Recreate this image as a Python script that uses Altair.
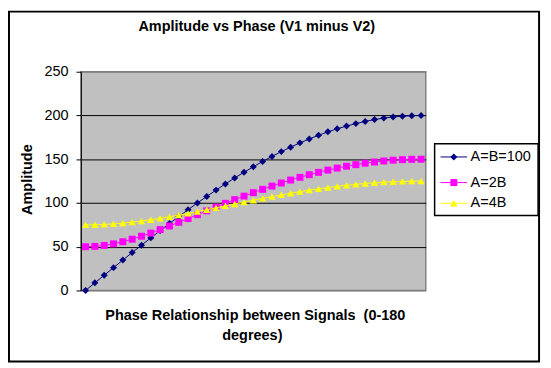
import altair as alt
import pandas as pd

# ---- data ----
phase = list(range(0, 181, 5))
series_names = ["A=B=100", "A=2B", "A=4B"]
amp_equal = [0.0, 8.7, 17.4, 26.1, 34.7, 43.3, 51.8, 60.1, 68.4, 76.5,
             84.5, 92.3, 100.0, 107.5, 114.7, 121.8, 128.6, 135.1, 141.4, 147.5,
             153.2, 158.7, 163.8, 168.7, 173.2, 177.4, 181.3, 184.8, 187.9, 190.7,
             193.2, 195.3, 197.0, 198.3, 199.2, 199.8, 200.0]
amp_2b = [50.0, 50.4, 51.5, 53.3, 55.7, 58.6, 62.0, 65.6, 69.6, 73.7,
          77.9, 82.2, 86.6, 91.0, 95.3, 99.6, 103.8, 107.8, 111.8, 115.6,
          119.3, 122.8, 126.2, 129.3, 132.3, 135.0, 137.6, 139.9, 142.0, 143.8,
          145.5, 146.8, 148.0, 148.9, 149.5, 149.9, 150.0]
amp_4b = [75.0, 75.1, 75.5, 76.1, 77.0, 78.1, 79.3, 80.8, 82.4, 84.2,
          86.1, 88.1, 90.1, 92.3, 94.4, 96.6, 98.8, 100.9, 103.1, 105.2,
          107.2, 109.2, 111.1, 112.9, 114.6, 116.2, 117.6, 119.0, 120.2, 121.3,
          122.3, 123.1, 123.8, 124.3, 124.7, 124.9, 125.0]
y_ticks = [0, 50, 100, 150, 200, 250]
chart_title = "Amplitude vs Phase (V1 minus V2)"
x_title_lines = ["Phase Relationship between Signals \u00a0(0-180", "degrees)"]
y_title = "Amplitude"

# ---- styles ----
colors = ["#000080", "#FF00FF", "#FFFF00"]
shapes = ["diamond", "square", "triangle-up"]
sizes = [50, 50, 55]
values = [amp_equal, amp_2b, amp_4b]
FONT = "Liberation Sans, Arial, sans-serif"
FS = 14.67
W, H = 350, 222

x_scale = alt.Scale(domain=[-2.5, 182.5], nice=False, zero=False)
y_scale = alt.Scale(domain=[0, 250], nice=False)

y_axis = alt.Axis(
    values=y_ticks, title=y_title, grid=True,
    gridColor={"condition": {"test": "datum.value == 0 || datum.value == 250", "value": "#808080"}, "value": "#000000"},
    gridWidth=1, domainColor="#000000", domainWidth=1,
    tickColor="#000000", tickSize=5, tickWidth=1,
    labelFont=FONT, labelFontSize=FS, labelColor="#000000", labelPadding=8,
    titleFont=FONT, titleFontSize=FS, titleFontWeight="bold", titleColor="#000000",
    titleX=-54, titleY=109, titleAngle=270, titleAlign="center", titleBaseline="middle",
)

layers = []
one = pd.DataFrame({"k": [0]})

# chart border
layers.append(
    alt.Chart(one).mark_rect(fillOpacity=0, stroke="#000000", strokeWidth=2).encode(
        x=alt.value(-73), x2=alt.value(465), y=alt.value(-61), y2=alt.value(294)
    )
)

for name, col, shp, sz, vals in zip(series_names, colors, shapes, sizes, values):
    df = pd.DataFrame({"phase": phase, "amp": vals, "series": name})
    base = alt.Chart(df).encode(
        x=alt.X("phase:Q", scale=x_scale, axis=None),
        y=alt.Y("amp:Q", scale=y_scale, axis=y_axis),
    )
    layers.append(base.mark_line(color=col, strokeWidth=1))
    layers.append(base.mark_point(shape=shp, filled=True, color=col, size=sz, opacity=1, strokeWidth=0))

# title
layers.append(
    alt.Chart(pd.DataFrame({"t": [chart_title]})).mark_text(
        font=FONT, fontSize=FS, fontWeight="bold", color="#000000", align="center", baseline="middle"
    ).encode(text="t:N", x=alt.value(178.5), y=alt.value(-45))
)
# x title (two lines)
for line, xc, yc in zip(x_title_lines, [177, 174], [248, 268]):
    layers.append(
        alt.Chart(pd.DataFrame({"t": [line]})).mark_text(
            font=FONT, fontSize=FS, fontWeight="bold", color="#000000", align="center", baseline="middle"
        ).encode(text="t:N", x=alt.value(xc), y=alt.value(yc))
    )

# legend box
layers.append(
    alt.Chart(one).mark_rect(fill="#FFFFFF", stroke="#000000", strokeWidth=1.5).encode(
        x=alt.value(359), x2=alt.value(464), y=alt.value(73), y2=alt.value(146)
    )
)
legend_y = [86.5, 112.5, 133.5]
for name, col, shp, sz, ly in zip(series_names, colors, shapes, sizes, legend_y):
    layers.append(
        alt.Chart(one).mark_rule(color=col, strokeWidth=1).encode(
            x=alt.value(365), x2=alt.value(392), y=alt.value(ly)
        )
    )
    layers.append(
        alt.Chart(one).mark_point(shape=shp, filled=True, color=col, size=sz, opacity=1, strokeWidth=0).encode(
            x=alt.value(378.5), y=alt.value(ly)
        )
    )
    layers.append(
        alt.Chart(pd.DataFrame({"t": [name]})).mark_text(
            font=FONT, fontSize=FS, color="#000000", align="left", baseline="middle"
        ).encode(text="t:N", x=alt.value(395.5), y=alt.value(ly))
    )

chart = alt.layer(*layers).properties(
    width=W, height=H,
    autosize=alt.AutoSizeParams(type="none"),
    padding={"left": 74, "top": 62, "right": 119, "bottom": 76},
    background="#FFFFFF",
).configure_view(
    fill="#C0C0C0", stroke="#808080", strokeWidth=1.5
)

chart.save("out.html", embed_options={"renderer": "svg", "actions": False})
